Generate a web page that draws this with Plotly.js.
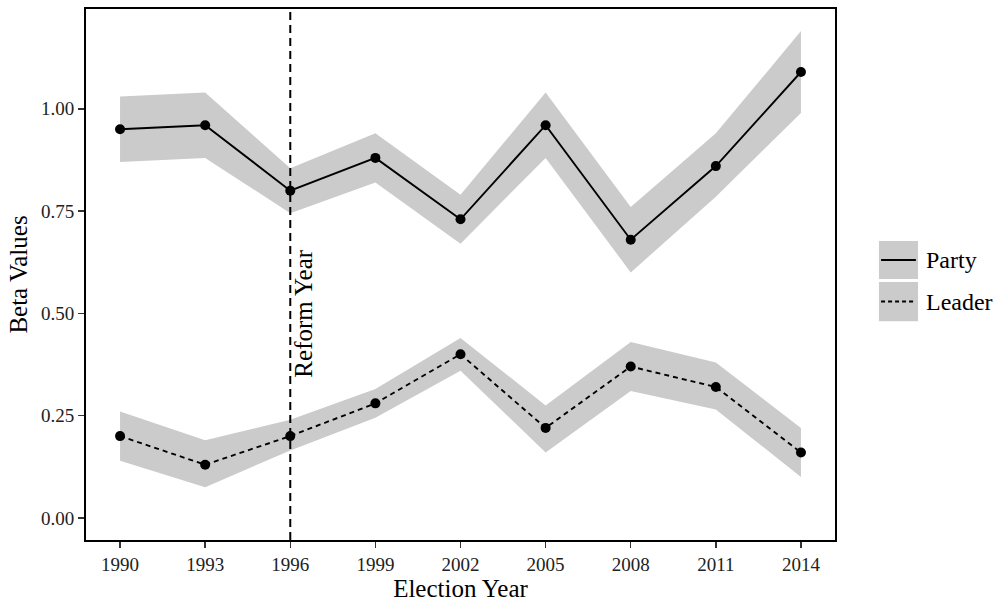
<!DOCTYPE html>
<html>
<head>
<meta charset="utf-8">
<script src="https://cdn.plot.ly/plotly-3.0.1.min.js"></script>
<style>html,body{margin:0;padding:0;background:#fff;}#chart{width:1002px;height:602px;}</style>
</head>
<body>
<div id="chart"></div>
<script>
const years = [1990, 1993, 1996, 1999, 2002, 2005, 2008, 2011, 2014];
const partyBeta  = [0.95, 0.96, 0.80, 0.88, 0.73, 0.96, 0.68, 0.86, 1.09];
const partyUpper = [1.03, 1.04, 0.855, 0.94, 0.79, 1.04, 0.76, 0.94, 1.19];
const partyLower = [0.87, 0.88, 0.745, 0.82, 0.67, 0.88, 0.60, 0.785, 0.99];
const leaderBeta  = [0.20, 0.13, 0.20, 0.28, 0.40, 0.22, 0.37, 0.32, 0.16];
const leaderUpper = [0.26, 0.19, 0.24, 0.315, 0.44, 0.275, 0.43, 0.38, 0.22];
const leaderLower = [0.14, 0.075, 0.165, 0.245, 0.36, 0.16, 0.31, 0.265, 0.10];
const reformYear = 1996;
const yTicks = [0, 0.25, 0.5, 0.75, 1.0];
const yTickLabels = ["0.00", "0.25", "0.50", "0.75", "1.00"];
const seriesNames = ["Party", "Leader"];

const FONT = "Liberation Serif, Times New Roman, serif";
const BAND = "#cbcbcb";

function band(upper, lower) {
  return {
    x: years.concat(years.slice().reverse()),
    y: upper.concat(lower.slice().reverse()),
    type: "scatter", mode: "lines", fill: "toself",
    fillcolor: BAND, line: {width: 0, color: BAND},
    hoverinfo: "skip", showlegend: false
  };
}
function series(vals, dash) {
  return {
    x: years, y: vals, type: "scatter", mode: "lines+markers",
    line: {color: "#000", width: 1.9, dash: dash},
    marker: {color: "#000", size: 10},
    showlegend: false
  };
}

const data = [
  band(partyUpper, partyLower),
  band(leaderUpper, leaderLower),
  series(partyBeta, "solid"),
  series(leaderBeta, "5px,4px")
];

const axisCommon = {
  showgrid: false, zeroline: false, showline: true, mirror: true,
  linecolor: "#000", linewidth: 2, ticks: "outside", ticklen: 6,
  tickwidth: 1.5, tickcolor: "#333",
  tickfont: {family: FONT, size: 19, color: "#222"}
};

const legY = [[0.563, 0.4915], [0.486, 0.412]];
const shapes = [{
  type: "line", xref: "x", yref: "paper", x0: reformYear, x1: reformYear, y0: 0, y1: 1,
  line: {color: "#000", width: 2, dash: "8px,5px"}
}];
const annotations = [{
  x: reformYear, y: 0.5, xref: "x", yref: "y", text: "Reform Year", textangle: -90,
  showarrow: false, xshift: 13, font: {family: FONT, size: 25, color: "#000"}
}];
seriesNames.forEach((nm, i) => {
  const y0 = legY[i][1], y1 = legY[i][0];
  shapes.push({type: "rect", xref: "paper", yref: "paper", x0: 1.0587, x1: 1.1108, y0: y0, y1: y1,
    fillcolor: BAND, line: {width: 0}});
  shapes.push({type: "line", xref: "paper", yref: "paper", x0: 1.0615, x1: 1.108,
    y0: (y0 + y1) / 2, y1: (y0 + y1) / 2,
    line: {color: "#000", width: 2, dash: i === 0 ? "solid" : "4px,3px"}});
  annotations.push({x: 1.119, y: (y0 + y1) / 2, xref: "paper", yref: "paper", text: nm,
    xanchor: "left", yanchor: "middle", showarrow: false,
    font: {family: FONT, size: 24, color: "#000"}});
});

const layout = {
  width: 1002, height: 602,
  margin: {l: 86, r: 167, t: 9, b: 62},
  paper_bgcolor: "#fff", plot_bgcolor: "#fff",
  xaxis: Object.assign({}, axisCommon, {
    range: [1988.8, 2015.2], tickvals: years, ticktext: years.map(String),
    title: {text: "Election Year", font: {family: FONT, size: 25, color: "#000"}, standoff: 4}
  }),
  yaxis: Object.assign({}, axisCommon, {
    range: [-0.054, 1.244], tickvals: yTicks, ticktext: yTickLabels,
    title: {text: "Beta Values", font: {family: FONT, size: 25, color: "#000"}, standoff: 6}
  }),
  shapes: shapes, annotations: annotations, showlegend: false
};

Plotly.newPlot("chart", data, layout, {displayModeBar: false, staticPlot: true});
</script>
</body>
</html>
